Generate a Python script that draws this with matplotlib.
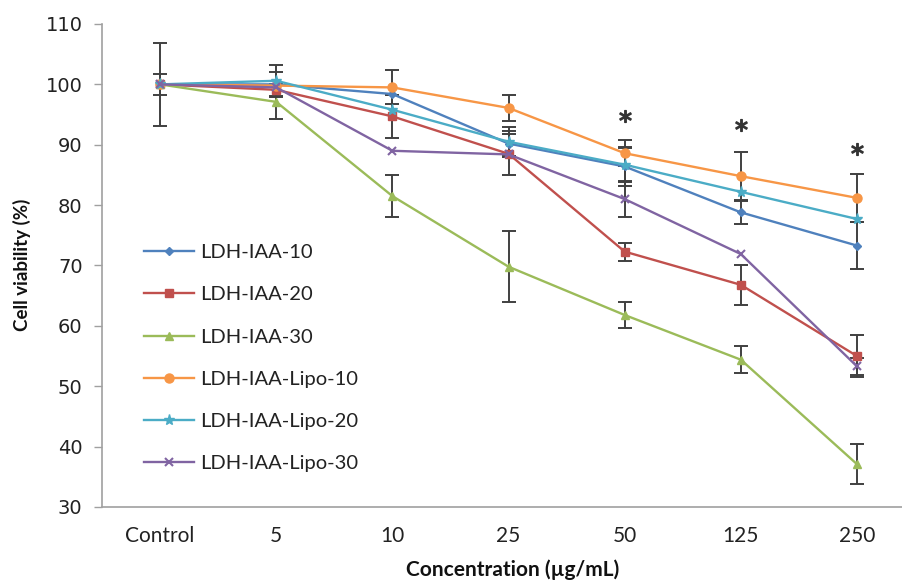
import matplotlib
matplotlib.use("Agg")
import matplotlib.pyplot as plt
import numpy as np

categories = ["Control", "5", "10", "25", "50", "125", "250"]
series_names = ["LDH-IAA-10", "LDH-IAA-20", "LDH-IAA-30",
                "LDH-IAA-Lipo-10", "LDH-IAA-Lipo-20", "LDH-IAA-Lipo-30"]

ldh10 = [100.0, 100.0, 98.4, 90.2, 86.4, 78.8, 73.3]
ldh20 = [100.0, 99.1, 94.7, 88.5, 72.3, 66.8, 55.0]
ldh30 = [100.0, 97.1, 81.5, 69.8, 61.8, 54.4, 37.1]
lipo10 = [100.0, 99.8, 99.5, 96.1, 88.6, 84.8, 81.2]
lipo20 = [100.0, 100.6, 95.8, 90.5, 86.7, 82.2, 77.7]
lipo30 = [100.0, 99.5, 89.0, 88.4, 81.0, 71.9, 53.3]

err_ldh10 = [1.8, 2.1, 0.0, 2.1, 3.3, 1.9, 3.9]
err_ldh20 = [0.0, 0.0, 3.6, 0.0, 1.5, 3.3, 3.5]
err_ldh30 = [6.9, 2.9, 3.5, 5.9, 2.1, 2.2, 3.3]
err_lipo10 = [0.0, 0.0, 2.8, 2.1, 2.2, 4.0, 4.0]
err_lipo20 = [0.0, 2.6, 0.0, 2.5, 2.8, 0.0, 0.0]
err_lipo30 = [0.0, 0.0, 0.0, 3.4, 3.0, 0.0, 1.4]

star_idx = [4, 5, 6]
star_y = [94.8, 93.3, 89.3]

values = [ldh10, ldh20, ldh30, lipo10, lipo20, lipo30]
errors = [err_ldh10, err_ldh20, err_ldh30, err_lipo10, err_lipo20, err_lipo30]
colors = ["#4F81BD", "#C0504D", "#9BBB59", "#F79646", "#4BACC6", "#8064A2"]
markers = ["D", "s", "^", "o", "*", "x"]
msizes = [4.5, 6, 6, 6.5, 8, 6]

fig = plt.figure(figsize=(9.02, 5.84), dpi=100)
ax = fig.add_axes([102/902, 1 - 507/584, 1 - 102/902, (507 - 24)/584])

x = np.arange(len(categories))
for vals, errs, c in zip(values, errors, colors):
    errs = np.array(errs)
    mask = errs > 0
    ax.errorbar(x[mask], np.array(vals)[mask], yerr=errs[mask], fmt="none",
                ecolor="#404040", elinewidth=1.4, capsize=5, capthick=1.4, zorder=2)

for vals, c, m, ms, name in zip(values, colors, markers, msizes, series_names):
    ax.plot(x, vals, color=c, marker=m, markersize=ms, linewidth=1.7,
            markeredgewidth=1.5 if m == "x" else 1.0, label=name, zorder=3)

ax.plot(star_idx, star_y, linestyle="none", marker="$*$", markersize=8.5,
        color="#333333", zorder=4)

ax.set_xlim(-0.5, (902 - 161) / 116)
ax.set_ylim(30, 110)
ax.set_yticks(np.arange(30, 111, 10))
ax.set_xticks(x)
ax.set_xticklabels(categories, fontfamily="Lato", fontsize=15, color="#222222")
for lab in ax.get_yticklabels():
    lab.set_fontfamily("DejaVu Sans")
    lab.set_fontsize(14)
    lab.set_color("#222222")

ax.tick_params(axis="x", length=0, pad=14)
ax.tick_params(axis="y", length=6, width=1, color="#A0A0A0", pad=8)
for s in ["top", "right"]:
    ax.spines[s].set_visible(False)
for s in ["left", "bottom"]:
    ax.spines[s].set_color("#A0A0A0")
    ax.spines[s].set_linewidth(1.2)

fig.text(22/902, 1 - 265/584, "Cell viability (%)", rotation=90, ha="center",
         va="center", fontfamily="Lato", fontweight="bold", fontsize=13.5,
         color="#111111")
fig.text(513/902, 1 - 570/584, "Concentration (\u00b5g/mL)", ha="center",
         va="center", fontfamily="Lato", fontweight="bold", fontsize=15,
         color="#111111")

leg = ax.legend(loc="upper left", bbox_to_anchor=(144/902, 1 - 244/584),
                bbox_transform=fig.transFigure, frameon=False,
                prop={"family": "Lato", "size": 14.5}, handlelength=2.5,
                handletextpad=0.3, labelspacing=1.25, borderpad=0,
                borderaxespad=0)
for t in leg.get_texts():
    t.set_color("#222222")

fig.savefig("out.png", dpi=100)
